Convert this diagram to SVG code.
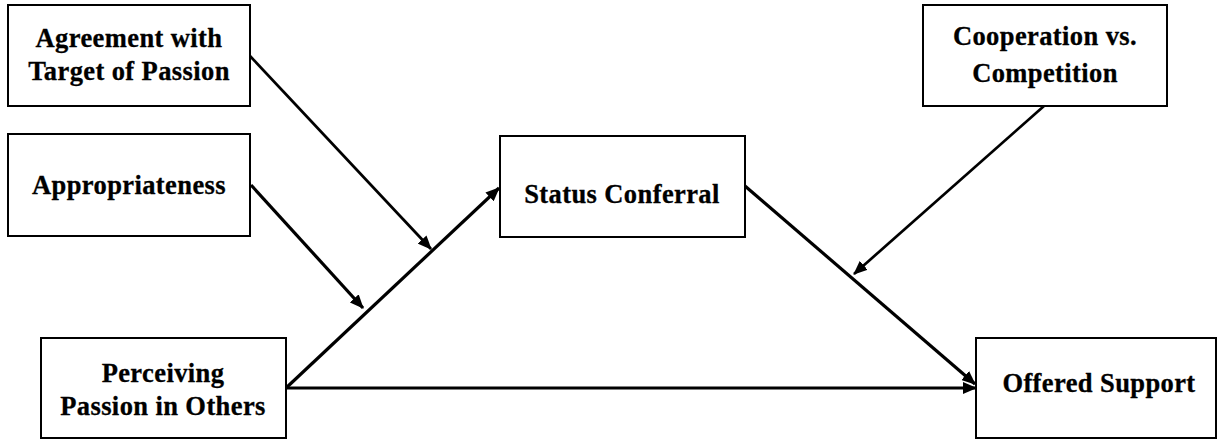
<svg xmlns="http://www.w3.org/2000/svg" width="1217" height="440" viewBox="0 0 1217 440">
  <style>
    .box { fill: #ffffff; stroke: #000000; stroke-width: 2; }
    .label { font-family: "Liberation Serif", "Times New Roman", serif; font-weight: bold; font-size: 26.5px; fill: #000000; text-anchor: middle; letter-spacing: 0.4px; stroke: #000000; stroke-width: 0.3px; }
    .path { stroke: #000000; stroke-width: 3.2; fill: none; marker-end: url(#head); }
    .mod { stroke: #000000; stroke-width: 2.7; fill: none; marker-end: url(#head); }
  </style>
  <defs>
    <marker id="head" markerUnits="userSpaceOnUse" viewBox="0 0 14 12" refX="13" refY="6" markerWidth="14" markerHeight="12" orient="auto">
      <path d="M0,0 L14,6 L0,12 Z" fill="#000000"/>
    </marker>
  </defs>
  <rect width="1217" height="440" fill="#ffffff"/>

  <g id="connectors">
    <!-- Perceiving -> Status Conferral -->
    <line class="path" x1="286" y1="388" x2="499" y2="188"/>
    <!-- Perceiving -> Offered Support -->
    <line class="path" x1="286" y1="388" x2="976" y2="388"/>
    <!-- Status Conferral -> Offered Support -->
    <line class="path" x1="745" y1="186" x2="975" y2="384"/>
    <!-- Moderators -->
    <line class="mod" x1="250" y1="56" x2="431" y2="249"/>
    <line class="path" x1="251" y1="185" x2="363" y2="308"/>
    <line class="mod" x1="1044" y1="106" x2="854" y2="274"/>
  </g>

  <g id="agreement">
    <rect class="box" x="8" y="5" width="242" height="101"/>
    <text class="label" x="129" y="47">Agreement with</text>
    <text class="label" x="129" y="80">Target of Passion</text>
  </g>

  <g id="appropriateness">
    <rect class="box" x="8" y="134" width="242" height="102"/>
    <text class="label" x="129" y="194">Appropriateness</text>
  </g>

  <g id="perceiving">
    <rect class="box" x="41" y="338" width="245" height="100"/>
    <text class="label" x="163" y="382">Perceiving</text>
    <text class="label" x="163" y="415">Passion in Others</text>
  </g>

  <g id="status">
    <rect class="box" x="500" y="136" width="245" height="101"/>
    <text class="label" x="622" y="203">Status Conferral</text>
  </g>

  <g id="cooperation">
    <rect class="box" x="923" y="5" width="244" height="101"/>
    <text class="label" x="1045" y="45">Cooperation vs.</text>
    <text class="label" x="1045" y="82">Competition</text>
  </g>

  <g id="offered">
    <rect class="box" x="976" y="338" width="240" height="100"/>
    <text class="label" x="1099" y="392">Offered Support</text>
  </g>
</svg>
